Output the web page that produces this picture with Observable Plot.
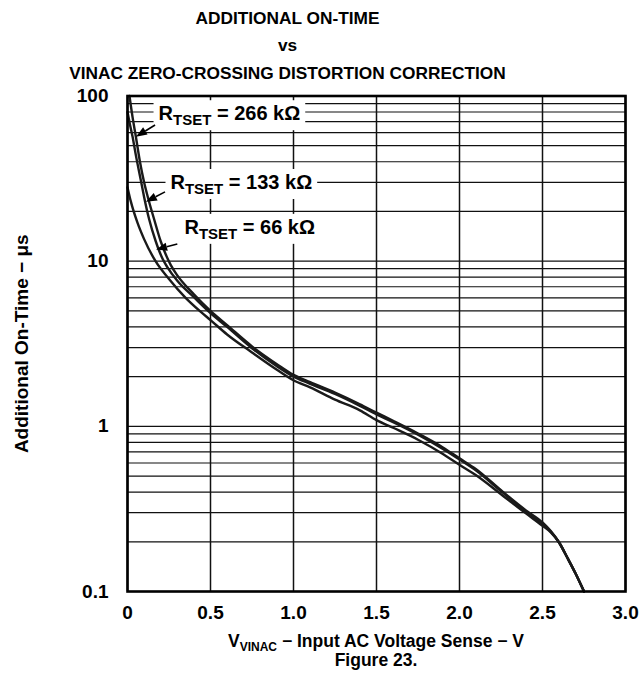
<!DOCTYPE html>
<html>
<head>
<meta charset="utf-8">
<script src="https://cdn.jsdelivr.net/npm/d3@7"></script>
<script src="https://cdn.jsdelivr.net/npm/@observablehq/plot@0.6"></script>
<style>
  html, body { margin: 0; padding: 0; background: #fff; }
  #wrap { width: 639px; font-family: "Liberation Sans", Arial, sans-serif; font-weight: bold; color: #000; }
  #title { position: relative; height: 84px; }
  #title div { position: absolute; left: 0; width: 575px; text-align: center; font-size: 17.3px; line-height: 20px; }
  #caption { position: relative; height: 58px; }
  #caption div { position: absolute; left: 127px; width: 498px; text-align: center; font-size: 17.5px; line-height: 20px; }
  #caption sub { font-size: 12px; vertical-align: -4px; line-height: 0; }
</style>
</head>
<body>
<div id="wrap">
  <div id="title">
    <div style="top:8px">ADDITIONAL ON-TIME</div>
    <div style="top:35px">vs</div>
    <div style="top:63px">VINAC ZERO-CROSSING DISTORTION CORRECTION</div>
  </div>
  <div id="chart"></div>
  <div id="caption">
    <div style="top:5px">V<sub>VINAC</sub> − Input AC Voltage Sense − V</div>
    <div style="top:24px">Figure 23.</div>
  </div>
</div>
<script>
// ---- Data ----
const xTickValues = [0, 0.5, 1, 1.5, 2, 2.5, 3];
const xTickLabels = ["0", "0.5", "1.0", "1.5", "2.0", "2.5", "3.0"];
const yTickValues = [0.1, 1, 10, 100];
const yTickLabels = ["0.1", "1", "10", "100"];
const yDecades = [0.1, 1, 10];
const yMinorMultipliers = [1, 2, 3, 4, 5, 6, 7, 8, 9];

const seriesNames = ["266 kΩ", "133 kΩ", "66 kΩ"];

const vinac266 = [0.012, 0.03, 0.05, 0.075, 0.10, 0.128, 0.16, 0.20, 0.23, 0.26, 0.30, 0.40, 0.50, 0.60, 0.75, 0.90, 1.00, 1.10, 1.25, 1.40, 1.50, 1.60, 1.75, 1.90, 2.00, 2.10, 2.25, 2.40, 2.50, 2.55, 2.60, 2.65, 2.70, 2.75];
const onTime266 = [100, 75, 57, 40, 30, 23.3, 18, 13.2, 11.0, 9.5, 8.2, 6.3, 5.0, 4.1, 3.05, 2.38, 2.05, 1.85, 1.6, 1.36, 1.21, 1.08, 0.905, 0.745, 0.64, 0.55, 0.41, 0.31, 0.262, 0.232, 0.198, 0.16, 0.128, 0.10];

const vinac133 = [0.0, 0.015, 0.03, 0.05, 0.08, 0.10, 0.13, 0.17, 0.19, 0.212, 0.24, 0.30, 0.40, 0.50, 0.60, 0.75, 0.90, 1.00, 1.10, 1.25, 1.40, 1.50, 1.60, 1.75, 1.90, 2.00, 2.10, 2.25, 2.40, 2.50, 2.55, 2.60, 2.65, 2.70, 2.75];
const onTime133 = [80, 67, 57, 44, 31, 24.5, 18, 13.2, 11.6, 10.3, 9.2, 7.6, 6.05, 4.85, 4.0, 2.97, 2.31, 2.0, 1.81, 1.57, 1.33, 1.18, 1.06, 0.89, 0.73, 0.63, 0.54, 0.405, 0.305, 0.257, 0.23, 0.198, 0.16, 0.128, 0.10];

const vinac66 = [0.0, 0.02, 0.06, 0.10, 0.169, 0.25, 0.35, 0.44, 0.50, 0.60, 0.75, 0.90, 1.00, 1.10, 1.25, 1.40, 1.50, 1.60, 1.75, 1.90, 2.00, 2.10, 2.25, 2.40, 2.50, 2.55, 2.60, 2.65, 2.70, 2.75];
const onTime66 = [28, 23, 17.1, 13.6, 10.0, 7.8, 6.0, 4.95, 4.4, 3.6, 2.8, 2.2, 1.9, 1.72, 1.45, 1.25, 1.09, 0.98, 0.83, 0.68, 0.585, 0.505, 0.388, 0.297, 0.25, 0.228, 0.198, 0.16, 0.128, 0.10];

// Label annotations (data coordinates)
const labelX = [0.187, 0.259, 0.343];
const labelY = [78, 29.9, 16.0];
const arrowX1 = [0.169, 0.229, 0.303];
const arrowY1 = [66.3, 26.1, 12.6];
const arrowX2 = [0.054, 0.114, 0.175];
const arrowY2 = [56.3, 22.7, 11.7];

// ---- Build tables ----
const rows = [];
[[vinac266, onTime266], [vinac133, onTime133], [vinac66, onTime66]].forEach(([xs, ys], k) => {
  xs.forEach((x, i) => rows.push({series: seriesNames[k], x, y: ys[i]}));
});
const yGrid = yDecades.flatMap(d => yMinorMultipliers.map(m => d * m)).concat([100]);
const labels = seriesNames.map((s, i) => ({text: "R_TSET = " + s, x: labelX[i], y: labelY[i]}));
const arrows = seriesNames.map((s, i) => ({x1: arrowX1[i], y1: arrowY1[i], x2: arrowX2[i], y2: arrowY2[i]}));

const svgNS = "http://www.w3.org/2000/svg";

// Custom mark: arrows with filled heads, positioned through the plot's scales
function filledArrows(index, scales) {
  const g = document.createElementNS(svgNS, "g");
  const headLen = 11, headHalf = 4.2;
  for (const a of arrows) {
    const x1 = scales.x(a.x1), y1 = scales.y(a.y1), x2 = scales.x(a.x2), y2 = scales.y(a.y2);
    const dx = x2 - x1, dy = y2 - y1, L = Math.hypot(dx, dy);
    const ux = dx / L, uy = dy / L;
    const bx = x2 - ux * headLen, by = y2 - uy * headLen;
    const line = document.createElementNS(svgNS, "line");
    line.setAttribute("x1", x1); line.setAttribute("y1", y1);
    line.setAttribute("x2", bx); line.setAttribute("y2", by);
    line.setAttribute("stroke", "#000"); line.setAttribute("stroke-width", 1.6);
    const head = document.createElementNS(svgNS, "path");
    head.setAttribute("d", `M${x2},${y2}L${bx - uy * headHalf},${by + ux * headHalf}L${bx + uy * headHalf},${by - ux * headHalf}Z`);
    head.setAttribute("fill", "#000");
    g.append(line, head);
  }
  return g;
}

const chart = Plot.plot({
  width: 639,
  height: 542,
  marginTop: 11.5,
  marginBottom: 35,
  marginLeft: 127,
  marginRight: 14,
  style: {fontFamily: "'Liberation Sans', Arial, sans-serif", fontWeight: "bold", fontSize: "19px", color: "#000", background: "#fff"},
  x: {domain: [0, 3], ticks: xTickValues, tickFormat: d => xTickLabels[xTickValues.indexOf(d)], tickSize: 0, tickPadding: 14, label: null},
  y: {type: "log", domain: [0.1, 100], ticks: yTickValues, tickFormat: d => yTickLabels[yTickValues.indexOf(d)], tickSize: 0, tickPadding: 19,
      label: "Additional On-Time − μs", labelAnchor: "center", labelOffset: 113, labelArrow: "none"},
  marks: [
    Plot.ruleY(yGrid, {stroke: "#111", strokeWidth: 1.2}),
    Plot.ruleX(xTickValues, {stroke: "#111", strokeWidth: 1.5}),
    Plot.text(labels, {x: "x", y: "y", text: "text", textAnchor: "start", fontSize: 20, fontWeight: "bold", fill: "#000"}),
    Plot.line(rows, {x: "x", y: "y", z: "series", stroke: "#1a1a1a", strokeWidth: 2.4, curve: "monotone-x"}),
    filledArrows,
    Plot.frame({stroke: "#000", strokeWidth: 2.6})
  ]
});
document.getElementById("chart").append(chart);

// Subscript formatting and white label boxes
chart.querySelectorAll("text").forEach(t => {
  const s = t.textContent;
  if (!s.startsWith("R_TSET")) return;
  const rest = s.replace("R_TSET", "");
  t.textContent = "";
  const a = document.createElementNS(svgNS, "tspan"); a.textContent = "R";
  const b = document.createElementNS(svgNS, "tspan"); b.textContent = "TSET"; b.setAttribute("font-size", "15"); b.setAttribute("dy", "5");
  const c = document.createElementNS(svgNS, "tspan"); c.textContent = rest; c.setAttribute("dy", "-5");
  t.append(a, b, c);
  const bb = t.getBBox();
  const r = document.createElementNS(svgNS, "rect");
  r.setAttribute("x", bb.x - 5);
  r.setAttribute("y", bb.y - 2);
  r.setAttribute("width", bb.width + 10);
  r.setAttribute("height", bb.height + 4);
  r.setAttribute("fill", "#fff");
  if (t.getAttribute("transform")) r.setAttribute("transform", t.getAttribute("transform"));
  t.parentNode.insertBefore(r, t);
});
</script>
</body>
</html>
